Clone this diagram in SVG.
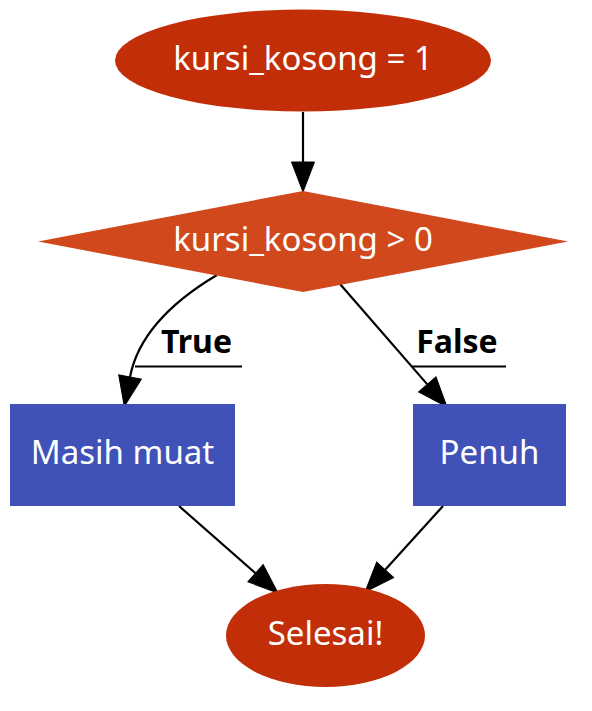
<svg xmlns="http://www.w3.org/2000/svg" width="592" height="711" viewBox="0 0 592 711">
  <style>
    .lbl { font-family: "Noto Sans", "Open Sans", sans-serif; font-size: 33px; fill: #ffffff; text-anchor: middle; }
    .elbl { font-family: "Noto Sans", "Open Sans", sans-serif; font-size: 32px; font-weight: bold; fill: #000000; text-anchor: middle; }
    .term { fill: #C22E07; }
    .dec { fill: #D1481C; }
    .proc { fill: #4052B7; }
    .edge { fill: none; stroke: #000000; stroke-width: 2.2; }
  </style>
  <defs>
    <marker id="arr" markerUnits="userSpaceOnUse" markerWidth="32" markerHeight="24" refX="0" refY="11.5" orient="auto" viewBox="0 0 32 23" overflow="visible">
      <path d="M0,0 L30,11.5 L0,23 z" fill="#000000" stroke="#000000" stroke-width="1"/>
    </marker>
  </defs>
  <rect width="592" height="711" fill="#ffffff"/>

  <g id="connectors">
    <path class="edge" d="M303,112 L303,162" marker-end="url(#arr)"/>
    <path class="edge" d="M217,275 C185,294 139.6,327.4 130,377" marker-end="url(#arr)"/>
    <path class="edge" d="M340,284 L427.3,384.4" marker-end="url(#arr)"/>
    <path class="edge" d="M179,506 L255.5,573.2" marker-end="url(#arr)"/>
    <path class="edge" d="M443,506 L385.2,569.8" marker-end="url(#arr)"/>
    <g id="label-true">
      <text class="elbl" x="196.5" y="353">True</text>
      <line class="edge" x1="135" y1="366.5" x2="242" y2="366.5"/>
    </g>
    <g id="label-false">
      <text class="elbl" x="457" y="353">False</text>
      <line class="edge" x1="412" y1="366.5" x2="506" y2="366.5"/>
    </g>
  </g>

  <g id="start">
    <ellipse class="term" cx="303" cy="60.5" rx="188" ry="51"/>
    <text class="lbl" x="303" y="70">kursi_kosong = 1</text>
  </g>
  <g id="decision">
    <polygon class="dec" points="303,191 568,241.5 303,292 38,241.5"/>
    <text class="lbl" x="303" y="251">kursi_kosong &gt; 0</text>
  </g>
  <g id="masih-muat">
    <rect class="proc" x="10" y="404" width="225" height="102"/>
    <text class="lbl" x="122.5" y="464">Masih muat</text>
  </g>
  <g id="penuh">
    <rect class="proc" x="413" y="404" width="153" height="102"/>
    <text class="lbl" x="489.5" y="464">Penuh</text>
  </g>
  <g id="selesai">
    <ellipse class="term" cx="325.5" cy="635.5" rx="99.5" ry="51.5"/>
    <text class="lbl" x="325.5" y="644.5">Selesai!</text>
  </g>
</svg>
